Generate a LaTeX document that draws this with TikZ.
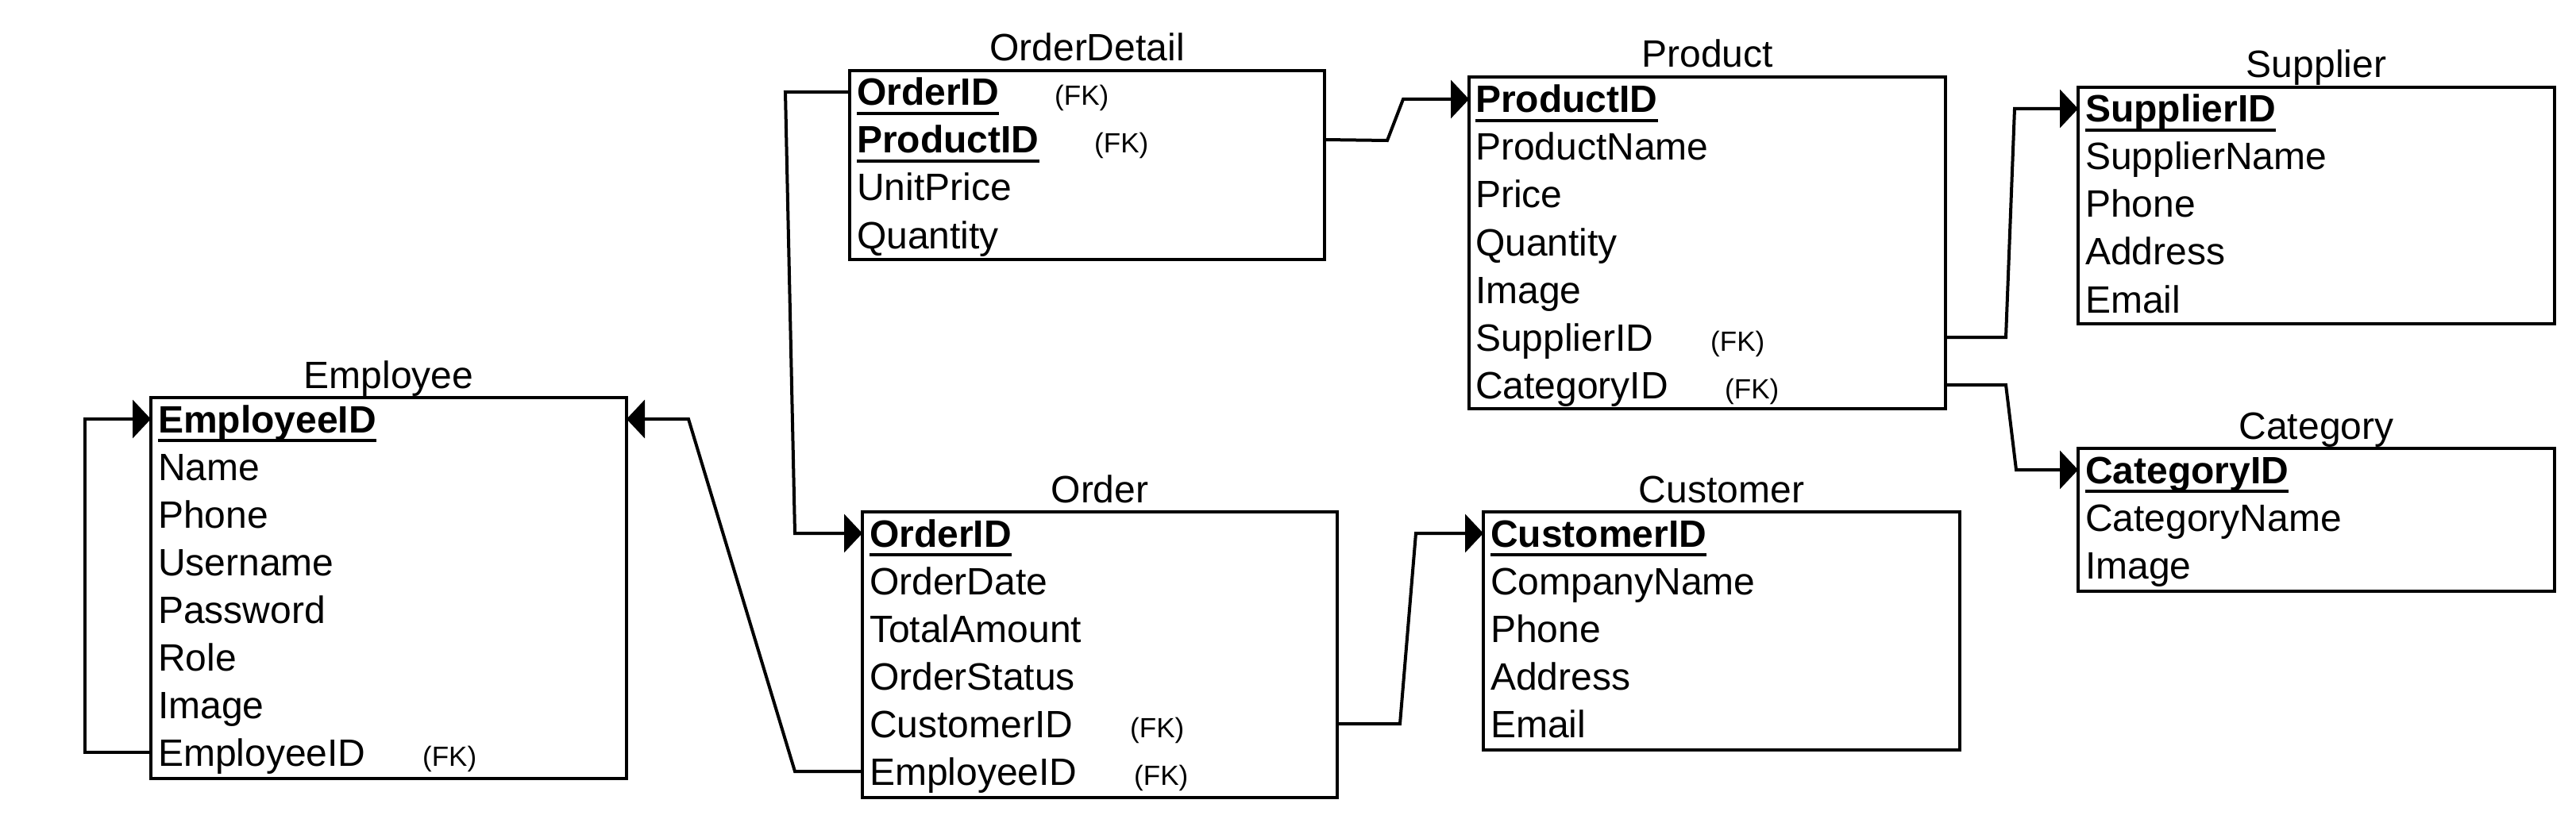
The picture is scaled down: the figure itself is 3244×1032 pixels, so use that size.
\documentclass[tikz,border=0pt]{standalone}
\usepackage{fontspec}
\setmainfont{Liberation Sans}
\usetikzlibrary{arrows.meta}
\tikzset{
 tbl/.style={draw, line width=4pt, anchor=north west, inner sep=0pt, outer sep=0pt},
 ttl/.style={anchor=base, inner sep=0pt, font=\fontsize{48}{56}\selectfont},
 rowtxt/.style={anchor=west, inner sep=0pt, text height=34pt, text depth=0pt, font=\fontsize{48}{56}\selectfont},
 pkrow/.style={rowtxt, font=\fontsize{48}{56}\selectfont\bfseries},
 fk/.style={anchor=base west, inner sep=0pt, font=\fontsize{35}{42}\selectfont},
 ul/.style={line width=3.5pt},
 link/.style={line width=4pt, -{Triangle[length=23pt,width=48pt]}},
}
\begin{document}
\begin{tikzpicture}[x=1pt,y=-1pt]
\useasboundingbox[fill=white] (0,0) rectangle (3244,1032);

% Employee
\node[tbl, minimum width=599pt, minimum height=480pt] (emp) at (190,501) {};
\node[ttl] (empT) at ([yshift=12pt]emp.north) {Employee};
\node[pkrow] (emp1) at (199,528) {EmployeeID};
\foreach \t [count=\i from 2] in {Name,Phone,Username,Password,Role,Image,EmployeeID}
  \node[rowtxt] (emp\i) at (199,{528+60*(\i-1)}) {\t};
\node[fk] (emp8fk) at (532,965) {(FK)};

% OrderDetail
\node[tbl, minimum width=598pt, minimum height=238pt] (od) at (1070,89) {};
\node[ttl] (odT) at ([yshift=12pt]od.north) {OrderDetail};
\node[pkrow] (od1) at (1079,116) {OrderID};
\node[pkrow] (od2) at (1079,176) {ProductID};
\node[rowtxt] (od3) at (1079,236) {UnitPrice};
\node[rowtxt] (od4) at (1079,296) {Quantity};
\node[fk] (od1fk) at (1328,133) {(FK)};
\node[fk] (od2fk) at (1378,193) {(FK)};

% Product
\node[tbl, minimum width=600pt, minimum height=418pt] (prod) at (1850,97) {};
\node[ttl] (prodT) at ([yshift=12pt]prod.north) {Product};
\node[pkrow] (prod1) at (1858,125) {ProductID};
\foreach \t [count=\i from 2] in {ProductName,Price,Quantity,Image,SupplierID,CategoryID}
  \node[rowtxt] (prod\i) at (1858,{125+60*(\i-1)}) {\t};
\node[fk] (prod6fk) at (2154,442) {(FK)};
\node[fk] (prod7fk) at (2172,502) {(FK)};

% Supplier
\node[tbl, minimum width=600pt, minimum height=298pt] (sup) at (2617,110) {};
\node[ttl] (supT) at ([yshift=12pt]sup.north) {Supplier};
\node[pkrow] (sup1) at (2626,137) {SupplierID};
\foreach \t [count=\i from 2] in {SupplierName,Phone,Address,Email}
  \node[rowtxt] (sup\i) at (2626,{137+60*(\i-1)}) {\t};

% Category
\node[tbl, minimum width=600pt, minimum height=180pt] (cat) at (2617,565) {};
\node[ttl] (catT) at ([yshift=12pt]cat.north) {Category};
\node[pkrow] (cat1) at (2626,592) {CategoryID};
\node[rowtxt] (cat2) at (2626,652) {CategoryName};
\node[rowtxt] (cat3) at (2626,712) {Image};

% Order
\node[tbl, minimum width=598pt, minimum height=360pt] (ord) at (1086,645) {};
\node[ttl] (ordT) at ([yshift=12pt]ord.north) {Order};
\node[pkrow] (ord1) at (1095,672) {OrderID};
\foreach \t [count=\i from 2] in {OrderDate,TotalAmount,OrderStatus,CustomerID,EmployeeID}
  \node[rowtxt] (ord\i) at (1095,{672+60*(\i-1)}) {\t};
\node[fk] (ord5fk) at (1423,929) {(FK)};
\node[fk] (ord6fk) at (1428,989) {(FK)};

% Customer
\node[tbl, minimum width=600pt, minimum height=300pt] (cus) at (1868,645) {};
\node[ttl] (cusT) at ([yshift=12pt]cus.north) {Customer};
\node[pkrow] (cus1) at (1877,672) {CustomerID};
\foreach \t [count=\i from 2] in {CompanyName,Phone,Address,Email}
  \node[rowtxt] (cus\i) at (1877,{672+60*(\i-1)}) {\t};

% underlines of primary keys
\foreach \n in {emp1,od1,od2,prod1,sup1,cat1,ord1,cus1}
  \draw[ul] ([yshift=-10pt]\n.south west) -- ([yshift=-10pt]\n.south east);

% connectors
\draw[link] (emp.west |- emp8) -- (107,948) -- (107,528) -- (emp.west |- emp1);
\draw[link] (ord.west |- ord6) -- (1001,972) -- (867,528) -- (emp.east |- emp1);
\draw[link] (od.west |- od1) -- (989,116) -- (1001,672) -- (ord.west |- ord1);
\draw[link] (od.east |- od2) -- (1747,177) -- (1767,125) -- (prod.west |- prod1);
\draw[link] (prod.east |- prod6) -- (2526,425) -- (2537,137) -- (sup.west |- sup1);
\draw[link] (prod.east |- prod7) -- (2526,485) -- (2539,592) -- (cat.west |- cat1);
\draw[link] (ord.east |- ord5) -- (1763,912) -- (1783,672) -- (cus.west |- cus1);
\end{tikzpicture}
\end{document}
